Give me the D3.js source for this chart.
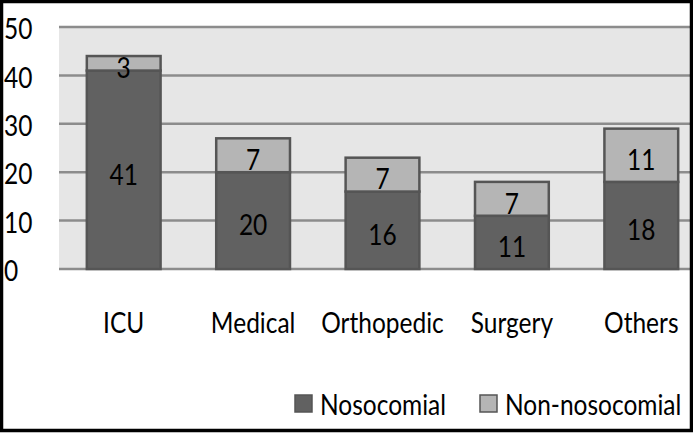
<!DOCTYPE html>
<html>
<head>
<meta charset="utf-8">
<script src="https://cdn.jsdelivr.net/npm/d3@7"></script>
<style>
  html, body { margin: 0; padding: 0; background: #fff; }
  svg { display: block; }
  text { font-family: Lato, "Open Sans", sans-serif; fill: #000; }
</style>
</head>
<body>
<svg id="chart" width="693" height="433"></svg>
<script>
const categories = ["ICU", "Medical", "Orthopedic", "Surgery", "Others"];
const nosocomial = [41, 20, 16, 11, 18];
const nonNosocomial = [3, 7, 7, 7, 11];
const seriesNames = ["Nosocomial", "Non-nosocomial"];
const yTicks = [0, 10, 20, 30, 40, 50];

const W = 693, H = 433;
const plot = { left: 59, right: 706, top: 27, bottom: 269, clipRight: 690 };
const colors = { dark: "#616161", light: "#b5b5b5", stroke: "#555555", grid: "#8c8c8c", bg: "#e6e6e6" };
const fontSize = 24.5;
const stretch = 1.18;
const tf = (px, py) => `translate(${px},${py}) scale(1,${stretch})`;

const svg = d3.select("#chart");
svg.append("rect").attr("x", 0).attr("y", 0).attr("width", W).attr("height", H).attr("fill", "#fff");

const x = d3.scaleBand().domain(categories).range([plot.left, plot.right])
  .paddingInner(0.43).paddingOuter(0.215);
const y = d3.scaleLinear().domain([0, 50]).range([plot.bottom, plot.top]);

svg.append("clipPath").attr("id", "clip")
  .append("rect").attr("x", 0).attr("y", 0).attr("width", plot.clipRight).attr("height", H);

const g = svg.append("g").attr("clip-path", "url(#clip)");

g.append("rect").attr("x", plot.left).attr("y", plot.top)
  .attr("width", plot.right - plot.left).attr("height", plot.bottom - plot.top)
  .attr("fill", colors.bg);

g.selectAll("line.grid").data(yTicks).join("line")
  .attr("x1", plot.left).attr("x2", plot.right)
  .attr("y1", d => y(d)).attr("y2", d => y(d))
  .attr("stroke", colors.grid).attr("stroke-width", 2.5);

const rows = categories.map((c, i) => ({ cat: c, Nosocomial: nosocomial[i], "Non-nosocomial": nonNosocomial[i] }));
const stack = d3.stack().keys(seriesNames)(rows);
const fills = [colors.dark, colors.light];

stack.forEach((layer, li) => {
  g.selectAll("rect.s" + li).data(layer).join("rect")
    .attr("x", d => x(d.data.cat))
    .attr("width", x.bandwidth())
    .attr("y", d => y(d[1]))
    .attr("height", d => y(d[0]) - y(d[1]))
    .attr("fill", fills[li])
    .attr("stroke", colors.stroke).attr("stroke-width", 2.5);
});

stack.forEach((layer, li) => {
  g.selectAll("text.v" + li).data(layer).join("text")
    .attr("transform", d => tf(x(d.data.cat) + x.bandwidth() / 2, (y(d[0]) + y(d[1])) / 2 + 4))
    .attr("text-anchor", "middle").attr("dominant-baseline", "central")
    .attr("font-size", fontSize)
    .text(d => d[1] - d[0]);
});

svg.selectAll("text.yt").data(yTicks).join("text")
  .attr("transform", d => tf(4, y(d) + 1.5))
  .attr("dominant-baseline", "central")
  .attr("font-size", fontSize)
  .text(d => d);

g.selectAll("text.xl").data(categories).join("text")
  .attr("transform", d => tf(x(d) + x.bandwidth() / 2, 333))
  .attr("text-anchor", "middle")
  .attr("font-size", fontSize)
  .text(d => d);

const legendItems = [
  { name: seriesNames[0], color: colors.dark, sx: 295, tx: 320 },
  { name: seriesNames[1], color: colors.light, sx: 480, tx: 505 }
];
const lg = svg.append("g");
legendItems.forEach(it => {
  lg.append("rect").attr("x", it.sx).attr("y", 395).attr("width", 17).attr("height", 17)
    .attr("fill", it.color).attr("stroke", colors.stroke).attr("stroke-width", 1.5);
  lg.append("text").attr("transform", tf(it.tx, 415)).attr("font-size", fontSize).text(it.name);
});

svg.append("rect").attr("x", 1.5).attr("y", 1.5).attr("width", 690).attr("height", 429)
  .attr("fill", "none").attr("stroke", "#000").attr("stroke-width", 3.5);
</script>
</body>
</html>
